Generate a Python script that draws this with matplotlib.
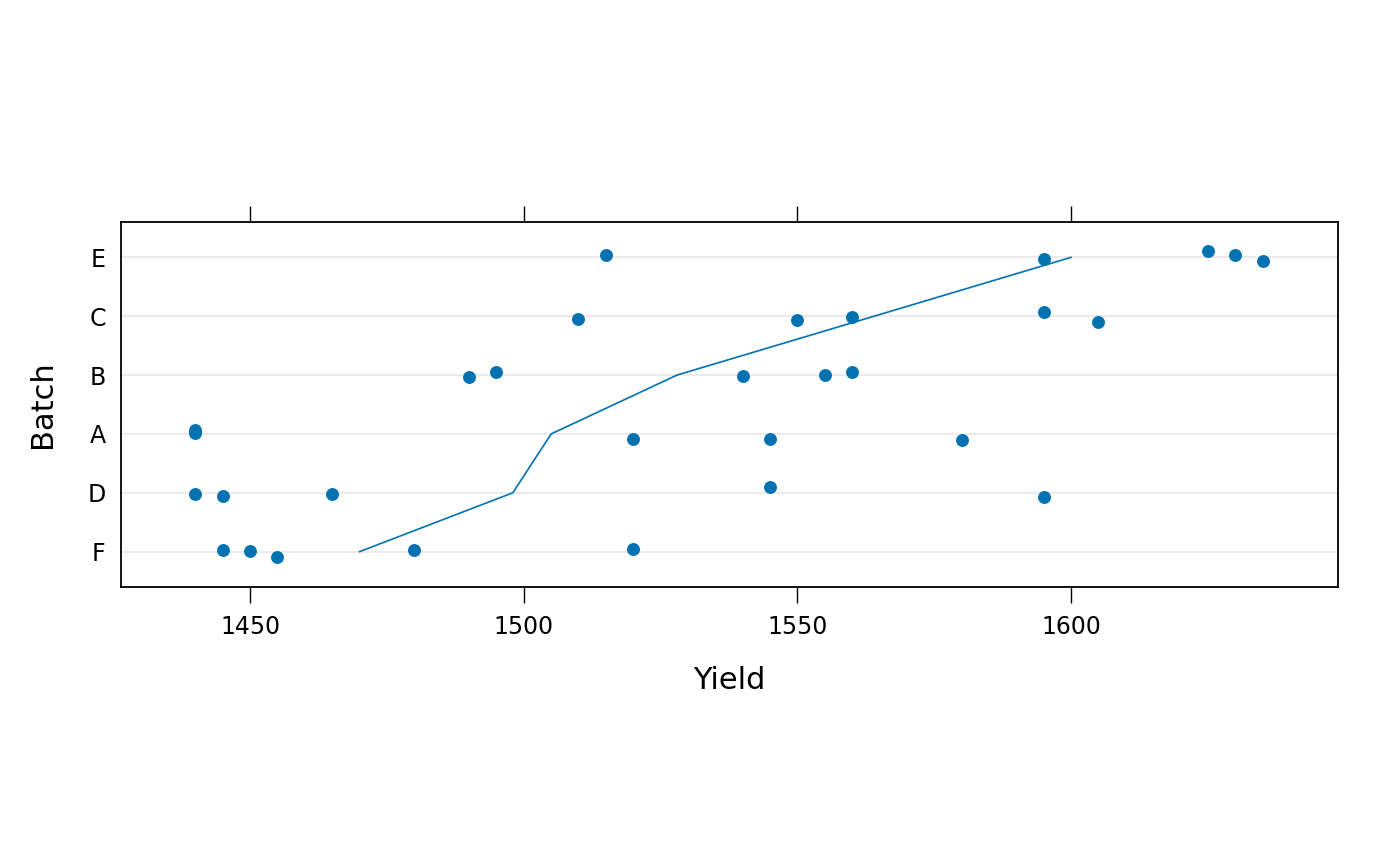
import matplotlib
matplotlib.use('Agg')
import matplotlib.pyplot as plt
import numpy as np

# Dyestuff yields, batches ordered by mean yield (bottom to top)
batches = ['F', 'D', 'A', 'B', 'C', 'E']
yields = {
    'F': [1445, 1450, 1455, 1480, 1520],
    'D': [1440, 1445, 1465, 1545, 1595],
    'A': [1440, 1440, 1520, 1545, 1580],
    'B': [1490, 1495, 1540, 1555, 1560],
    'C': [1510, 1550, 1560, 1595, 1605],
    'E': [1515, 1595, 1625, 1630, 1635],
}
# vertical jitter (in row units)
jitter = {
    'F': [0.034, 0.005, -0.092, 0.034, 0.045],
    'D': [-0.017, -0.056, -0.017, 0.097, -0.078],
    'A': [0.075, 0.024, -0.08, -0.09, -0.095],
    'B': [-0.04, 0.05, -0.01, -0.005, 0.045],
    'C': [-0.04, -0.063, -0.017, 0.08, -0.09],
    'E': [0.04, -0.034, 0.1, 0.045, -0.058],
}
means = [1470, 1498, 1505, 1528, 1564, 1600]

blue = '#0072B2'

fig = plt.figure(figsize=(14, 8.66), dpi=100)
ax = fig.add_axes([0.0864, 0.3222, 0.8690, 0.4214])

ypos = np.arange(1, len(batches) + 1)
for y in ypos:
    ax.axhline(y, color='#e6e6e6', lw=1.1, zorder=1)

for i, b in enumerate(batches):
    ys = [ypos[i] + j for j in jitter[b]]
    ax.plot(yields[b], ys, 'o', color=blue, ms=9.3, mec='none', zorder=3)

ax.plot(means, ypos, color=blue, lw=1.2, zorder=2)

ax.set_xlim(1426.4, 1648.7)
ax.set_ylim(0.4, 6.6)
ax.set_xticks([1450, 1500, 1550, 1600])
ax.set_yticks(ypos)
ax.set_yticklabels(batches)

ax.tick_params(axis='x', which='both', direction='out', length=11.5, width=1.0,
               top=True, labeltop=False, labelsize=17, pad=9)
ax.tick_params(axis='y', length=0, labelsize=17, pad=11)
for s in ax.spines.values():
    s.set_linewidth(1.3)

ax.set_xlabel('Yield', fontsize=22, labelpad=19)
ax.set_ylabel('Batch', fontsize=22, labelpad=22)

fig.savefig('out.png', dpi=100)
